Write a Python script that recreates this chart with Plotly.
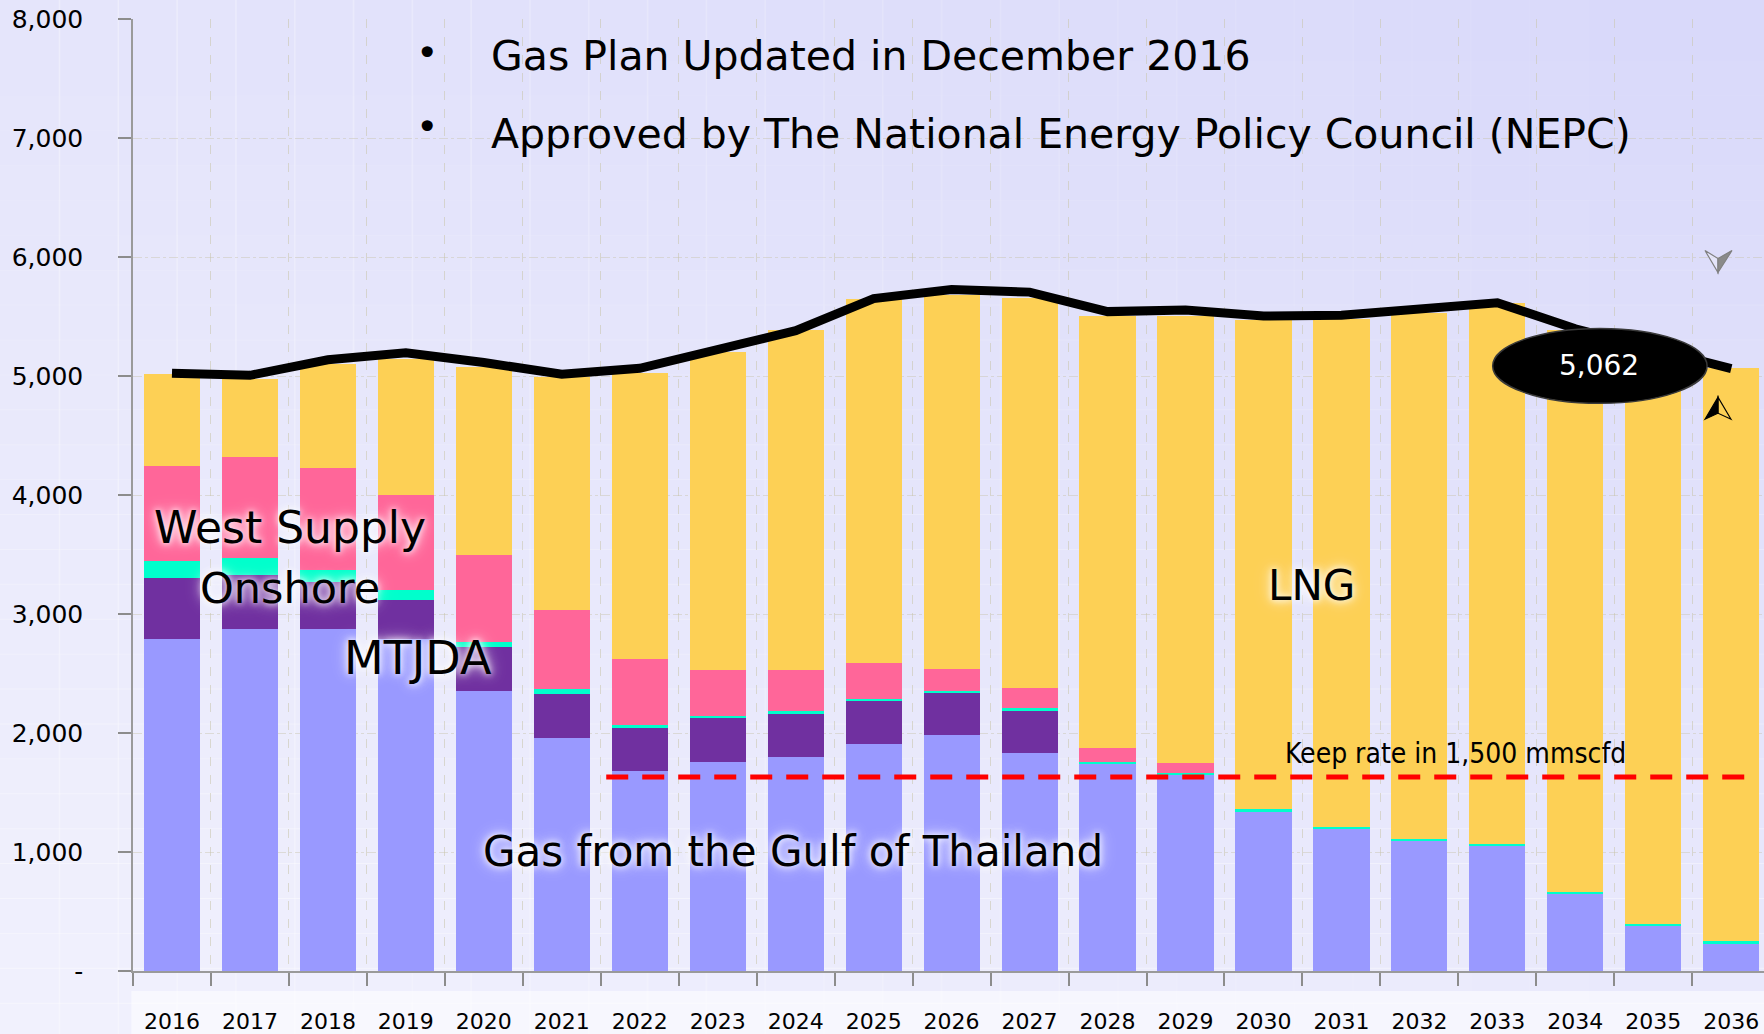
import plotly.graph_objects as go

# ---------------- data ----------------
years = ["2016", "2017", "2018", "2019", "2020", "2021", "2022", "2023", "2024", "2025",
         "2026", "2027", "2028", "2029", "2030", "2031", "2032", "2033", "2034", "2035", "2036"]

gulf_of_thailand = [2787, 2876, 2876, 2790, 2351, 1957, 1683, 1758, 1800, 1906,
                    1985, 1828, 1744, 1644, 1342, 1196, 1093, 1048, 654, 383, 235]
mtjda = [517, 453, 392, 329, 369, 368, 360, 364, 361, 361,
         357, 361, 0, 0, 0, 0, 0, 0, 0, 0, 0]
onshore = [145, 140, 103, 79, 45, 42, 28, 19, 28, 22,
           14, 23, 11, 19, 16, 17, 14, 20, 14, 14, 14]
west_supply = [794, 852, 855, 802, 735, 663, 548, 392, 344, 302,
               185, 167, 115, 81, 0, 0, 0, 0, 0, 0, 0]
lng = [772, 652, 872, 1146, 1576, 1962, 2404, 2667, 2853, 3059,
       3136, 3279, 3634, 3760, 4110, 4268, 4425, 4542, 4722, 4823, 4816]
demand = [5023, 5006, 5136, 5196, 5113, 5015, 5065, 5224, 5381, 5650,
          5727, 5705, 5541, 5555, 5504, 5510, 5560, 5616, 5397, 5233, 5062]

y_tickvals = [0, 1000, 2000, 3000, 4000, 5000, 6000, 7000, 8000]
y_ticktext = ["-", "1,000", "2,000", "3,000", "4,000", "5,000", "6,000", "7,000", "8,000"]

keep_rate_level = 1630
keep_rate_label = "Keep rate in 1,500 mmscfd"
title_lines = ["Gas Plan Updated in December 2016",
               "Approved by The National Energy Policy Council (NEPC)"]

# ---------------- styles ----------------
C_GULF = "#9999FF"
C_MTJDA = "#7030A0"
C_ONSHORE = "#00FFCC"
C_WEST = "#FF6699"
C_LNG = "#FDD055"
FONT = "DejaVu Sans"
GLOW = "0px 0px 6px rgba(255,255,255,0.95), 0px 0px 12px rgba(255,255,255,0.8), 0px 0px 18px rgba(255,255,255,0.5)"

fig = go.Figure()
for name, vals, col in [("Gas from the Gulf of Thailand", gulf_of_thailand, C_GULF),
                        ("MTJDA", mtjda, C_MTJDA),
                        ("Onshore", onshore, C_ONSHORE),
                        ("West Supply", west_supply, C_WEST),
                        ("LNG", lng, C_LNG)]:
    fig.add_trace(go.Bar(x=years, y=vals, name=name, marker=dict(color=col, line=dict(width=0)),
                         hoverinfo="skip"))

fig.add_trace(go.Scatter(x=years, y=demand, mode="lines", name="Demand",
                         line=dict(color="black", width=9), hoverinfo="skip"))

shapes = []
# background gradient (decorative)
N = 30
for i in range(N):
    a = 0.32 * (1 - i / (N - 1))
    shapes.append(dict(type="rect", xref="paper", yref="paper",
                       x0=-0.0816 + i * (1.0816 / N), x1=-0.0816 + (i + 1) * (1.0816 / N) + 0.001,
                       y0=-0.07, y1=1.03, fillcolor=f"rgba(255,255,255,{a:.3f})",
                       line=dict(width=0), layer="below"))
for i in range(N):
    a = 0.45 * (i / (N - 1))
    shapes.append(dict(type="rect", xref="paper", yref="paper",
                       x0=-0.09, x1=1.01,
                       y0=1.03 - (i + 1) * (1.10 / N) - 0.001, y1=1.03 - i * (1.10 / N),
                       fillcolor=f"rgba(255,255,255,{a:.3f})",
                       line=dict(width=0), layer="below"))
# light band behind the year labels
shapes.append(dict(type="rect", xref="paper", yref="paper", x0=-0.001, x1=1.01,
                   y0=-0.07, y1=-0.021, fillcolor="rgba(255,255,255,0.55)",
                   line=dict(width=0), layer="below"))
# keep-rate dashed line
shapes.append(dict(type="line", xref="x", yref="y", x0=5.57, x1=20.2,
                   y0=keep_rate_level, y1=keep_rate_level,
                   line=dict(color="#FF0000", width=5, dash="22px,14px"), layer="above"))
# callout bubble
shapes.append(dict(type="circle", xref="x", yref="y", x0=16.94, x1=19.69, y0=4770, y1=5400,
                   fillcolor="black", line=dict(color="#3a3a3a", width=1.5), layer="above"))

# navigation glyphs (pixel-sized paths anchored in data space)
def glyph(xa, ya, path, fill, line_col):
    return dict(type="path", xref="x", yref="y", xsizemode="pixel", ysizemode="pixel",
                xanchor=xa, yanchor=ya, path=path, fillcolor=fill,
                line=dict(color=line_col, width=1.2), layer="above")

shapes.append(glyph(19.83, 5962, "M -13 11 L 0 -11 L 0 3 Z", "rgba(235,235,250,0.6)", "#808080"))
shapes.append(glyph(19.83, 5962, "M 14 11 L 0 -11 L 0 3 Z", "#8a8a8a", "#808080"))
shapes.append(glyph(19.83, 4721, "M -13 -10 L 0 12 L 0 -4 Z", "black", "black"))
shapes.append(glyph(19.83, 4721, "M 13 -10 L 0 12 L 0 -4 Z", "rgba(253,208,85,0.3)", "black"))

annotations = [
    dict(text="•", xref="paper", yref="paper", x=0.1803, y=0.9640, xanchor="center", yanchor="middle",
         showarrow=False, font=dict(family=FONT, size=38, color="black")),
    dict(text="•", xref="paper", yref="paper", x=0.1803, y=0.8870, xanchor="center", yanchor="middle",
         showarrow=False, font=dict(family=FONT, size=38, color="black")),
    dict(text=title_lines[0], xref="paper", yref="paper", x=0.2183, y=0.9615, xanchor="left",
         yanchor="middle", showarrow=False, font=dict(family=FONT, size=41, color="black")),
    dict(text=title_lines[1], xref="paper", yref="paper", x=0.2183, y=0.8790, xanchor="left",
         yanchor="middle", showarrow=False, font=dict(family=FONT, size=41, color="black")),
    dict(text="West Supply", x=1.52, y=3723, xref="x", yref="y", showarrow=False,
         font=dict(family=FONT, size=44, color="black", shadow=GLOW)),
    dict(text="Onshore", x=1.52, y=3218, xref="x", yref="y", showarrow=False,
         font=dict(family=FONT, size=43, color="black", shadow=GLOW)),
    dict(text="MTJDA", x=3.16, y=2633, xref="x", yref="y", showarrow=False,
         font=dict(family=FONT, size=46, color="black", shadow=GLOW)),
    dict(text="LNG", x=14.61, y=3237, xref="x", yref="y", showarrow=False,
         font=dict(family=FONT, size=42, color="black", shadow=GLOW)),
    dict(text="Gas from the Gulf of Thailand", x=7.97, y=1002, xref="x", yref="y", showarrow=False,
         font=dict(family=FONT, size=42, color="black", shadow=GLOW)),
    dict(text=keep_rate_label, x=16.46, y=1828, xref="x", yref="y", showarrow=False,
         font=dict(family="DejaVu Sans Condensed, DejaVu Sans", size=28, color="black")),
    dict(text=f"{demand[-1]:,}", x=18.30, y=5090, xref="x", yref="y", showarrow=False,
         font=dict(family=FONT, size=28, color="white")),
]

fig.update_layout(
    width=1764, height=1034,
    margin=dict(l=133, r=0, t=19, b=61),
    barmode="stack", bargap=0.28,
    showlegend=False,
    paper_bgcolor="#D9D9FA",
    plot_bgcolor="rgba(0,0,0,0)",
    shapes=shapes,
    annotations=annotations,
    xaxis=dict(type="category", range=[-0.5, 20.42], tickson="boundaries",
               ticks="outside", ticklen=13, tickcolor="#8c8c8c", tickwidth=1.5,
               showline=True, linecolor="#9a9a9a", linewidth=1.5,
               showgrid=True, gridcolor="rgba(200,196,170,0.55)", griddash="dash", gridwidth=1,
               tickfont=dict(family=FONT, size=22, color="black"), ticklabelstandoff=30),
    yaxis=dict(range=[0, 8000], tickvals=y_tickvals, ticktext=y_ticktext,
               ticks="outside", ticklen=13, tickcolor="#8c8c8c", tickwidth=1.5,
               showline=True, linecolor="#9a9a9a", linewidth=1.5, zeroline=False,
               showgrid=True, gridcolor="rgba(200,196,170,0.45)", griddash="dashdot", gridwidth=1,
               tickfont=dict(family=FONT, size=25, color="black"), ticklabelstandoff=30),
)

fig.write_html("out.html", config={"displayModeBar": False},
               post_script="document.body.style.margin='0';")
